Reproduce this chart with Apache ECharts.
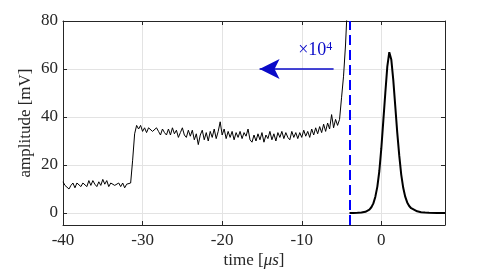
<!DOCTYPE html>
<html>
<head>
<meta charset="utf-8">
<script src="https://cdn.jsdelivr.net/npm/echarts@6/dist/echarts.min.js"></script>
<style>html,body{margin:0;padding:0;background:#fff}#c{width:491px;height:273px}</style>
</head>
<body>
<div id="c"></div>
<script>
// Noisy trace, sampled every 0.25 µs from -40 µs
const traceStart = -40;
const traceStep = 0.25;
const traceAmp = [
  13, 11.5, 12, 10, 11.5, 12.5, 10.5, 12.5, 13, 11, 12.5, 12, 11, 13.5, 11.5, 13.5, 12,
  11, 13, 11.5, 14, 12, 13.5, 11, 12.5, 13, 11.5, 11, 12.5, 11, 12.5, 10.5, 12, 12.5,
  12.5, 22, 33,
  36.5, 35, 36.5,
  34, 35.5, 33.5, 35.5,
  36, 34, 33.5, 35.5,
  34, 32.5, 35, 33.5,
  32.5, 35, 32.5, 35.5,
  33, 34.5, 31.5, 33.5,
  35.5, 32.5, 31.5, 34.5,
  32, 34.5, 30.5, 33,
  28.5, 32.5, 34.5, 30.5,
  33.5, 30, 34, 31.5,
  35, 31, 34, 38,
  32.5, 35, 31, 34,
  31.5, 34, 30.5, 33.5,
  31.5, 34, 31, 33.5,
  32, 35, 30.5, 29.5,
  32.5, 30, 33, 30.5,
  33.5, 29.5, 32.5, 31,
  34, 30.5, 33, 30,
  33.5, 31.5, 34, 31,
  33.5, 31.5, 30.5, 34,
  31.5, 33.5, 31, 33.5,
  31.5, 34.5, 32, 34,
  31.5, 35, 32.5, 35.5,
  33, 36, 33.5, 37,
  34, 37.5, 35, 41,
  35.5, 39, 36.5, 39,
  48, 57, 70, 88
];
// Pulse after the marker
const pulseTime = [-4, -3.5, -3, -2.5, -2, -1.75, -1.5, -1.25, -1, -0.75, -0.5, -0.25, 0, 0.25, 0.5, 0.75, 1, 1.25, 1.5, 1.75, 2, 2.25, 2.5, 2.75, 3, 3.25, 3.5, 3.75, 4, 4.5, 5, 5.5, 6, 7, 8];
const pulseAmp  = [0, 0.05, 0.1, 0.2, 0.5, 0.8, 1.4, 2.4, 4, 6.8, 11, 17.5, 27, 38.5, 50, 61, 67, 64, 55.5, 44.5, 33.5, 24, 16, 10.5, 6.8, 4.4, 2.9, 2, 1.4, 0.7, 0.35, 0.2, 0.1, 0.03, 0];
const markerTime = -4;
const arrowFrom = [-6, 60];
const arrowTo = [-15.3, 60];
const xTicks = [-40, -30, -20, -10, 0];
const yTicks = [0, 20, 40, 60, 80];

const traceData = traceAmp.map((v, i) => [traceStart + i * traceStep, v]);
const pulseData = pulseTime.map((t, i) => [t, pulseAmp[i]]);

const font = 'Liberation Serif';
const axisCol = '#262626';
const gridCol = '#e3e3e3';
const blue2 = '#0a0ac8';

const chart = echarts.init(document.getElementById('c'), null, {renderer: 'canvas'});
chart.setOption({
  animation: false,
  backgroundColor: '#fff',
  grid: {left: 63, right: 46, top: 21, bottom: 48, containLabel: false, outerBoundsMode: 'none'},
  xAxis: [{
    type: 'value', min: -40, max: 8, interval: 10, position: 'bottom',
    axisLine: {show: true, onZero: false, lineStyle: {color: axisCol, width: 1}},
    axisTick: {show: true, inside: true, length: 4, lineStyle: {color: axisCol}},
    axisLabel: {color: axisCol, fontFamily: font, fontSize: 17, margin: 7,
      formatter: v => (xTicks.indexOf(v) >= 0 ? String(v) : '')},
    splitLine: {show: true, lineStyle: {color: gridCol, width: 1}},
    name: 'time [{i|μs}]', nameLocation: 'middle', nameGap: 27, nameMoveOverlap: false,
    nameTextStyle: {color: axisCol, fontFamily: font, fontSize: 17,
      rich: {i: {fontFamily: font, fontSize: 17, fontStyle: 'italic', color: axisCol}}}
  }, {
    type: 'value', min: -40, max: 8, interval: 10, position: 'top',
    axisLine: {show: true, onZero: false, lineStyle: {color: axisCol, width: 1}},
    axisTick: {show: true, inside: true, length: 4, lineStyle: {color: axisCol}},
    axisLabel: {show: false}, splitLine: {show: false}
  }],
  yAxis: [{
    type: 'value', min: -5, max: 80, position: 'left',
    axisLine: {show: true, onZero: false, lineStyle: {color: axisCol, width: 1}},
    axisTick: {show: true, inside: true, length: 4, lineStyle: {color: axisCol}, customValues: yTicks},
    axisLabel: {color: axisCol, fontFamily: font, fontSize: 17, margin: 5, customValues: yTicks},
    splitLine: {show: true, lineStyle: {color: gridCol, width: 1}},
    name: 'amplitude [mV]', nameLocation: 'middle', nameGap: 29, nameMoveOverlap: false,
    nameTextStyle: {color: axisCol, fontFamily: font, fontSize: 17}
  }, {
    type: 'value', min: -5, max: 80, position: 'right',
    axisLine: {show: true, onZero: false, lineStyle: {color: axisCol, width: 1}},
    axisTick: {show: true, inside: true, length: 4, lineStyle: {color: axisCol}, customValues: yTicks},
    axisLabel: {show: false}, splitLine: {show: false}
  }],
  series: [{
    type: 'line', data: traceData, showSymbol: false, symbol: 'none',
    lineStyle: {color: '#000', width: 1}, clip: true, z: 3
  }, {
    type: 'line', data: pulseData, showSymbol: false, symbol: 'none',
    lineStyle: {color: '#000', width: 2}, clip: true, z: 3,
    markLine: {
      silent: true, symbol: ['none', 'none'], label: {show: false},
      lineStyle: {color: '#0000ff', width: 2, type: [10, 5]},
      data: [{xAxis: markerTime}]
    }
  }, {
    type: 'line', data: [], z: 4,
    markLine: {
      silent: true, symbol: ['none', 'arrow'], symbolSize: [15, 20], label: {show: false},
      lineStyle: {color: blue2, width: 1.5, type: 'solid'},
      data: [[{coord: arrowFrom}, {coord: arrowTo}]]
    },
    markPoint: {
      silent: true,
      data: [{coord: [-8.3, 67.6], symbol: 'circle', symbolSize: 0,
        label: {show: true, position: 'inside', formatter: '×10{s|4}', color: blue2,
          fontFamily: font, fontSize: 18,
          rich: {s: {fontFamily: font, fontSize: 12, color: blue2, verticalAlign: 'top', padding: [0, 0, 7, 0]}}}}]
    }
  }]
});
</script>
</body>
</html>
